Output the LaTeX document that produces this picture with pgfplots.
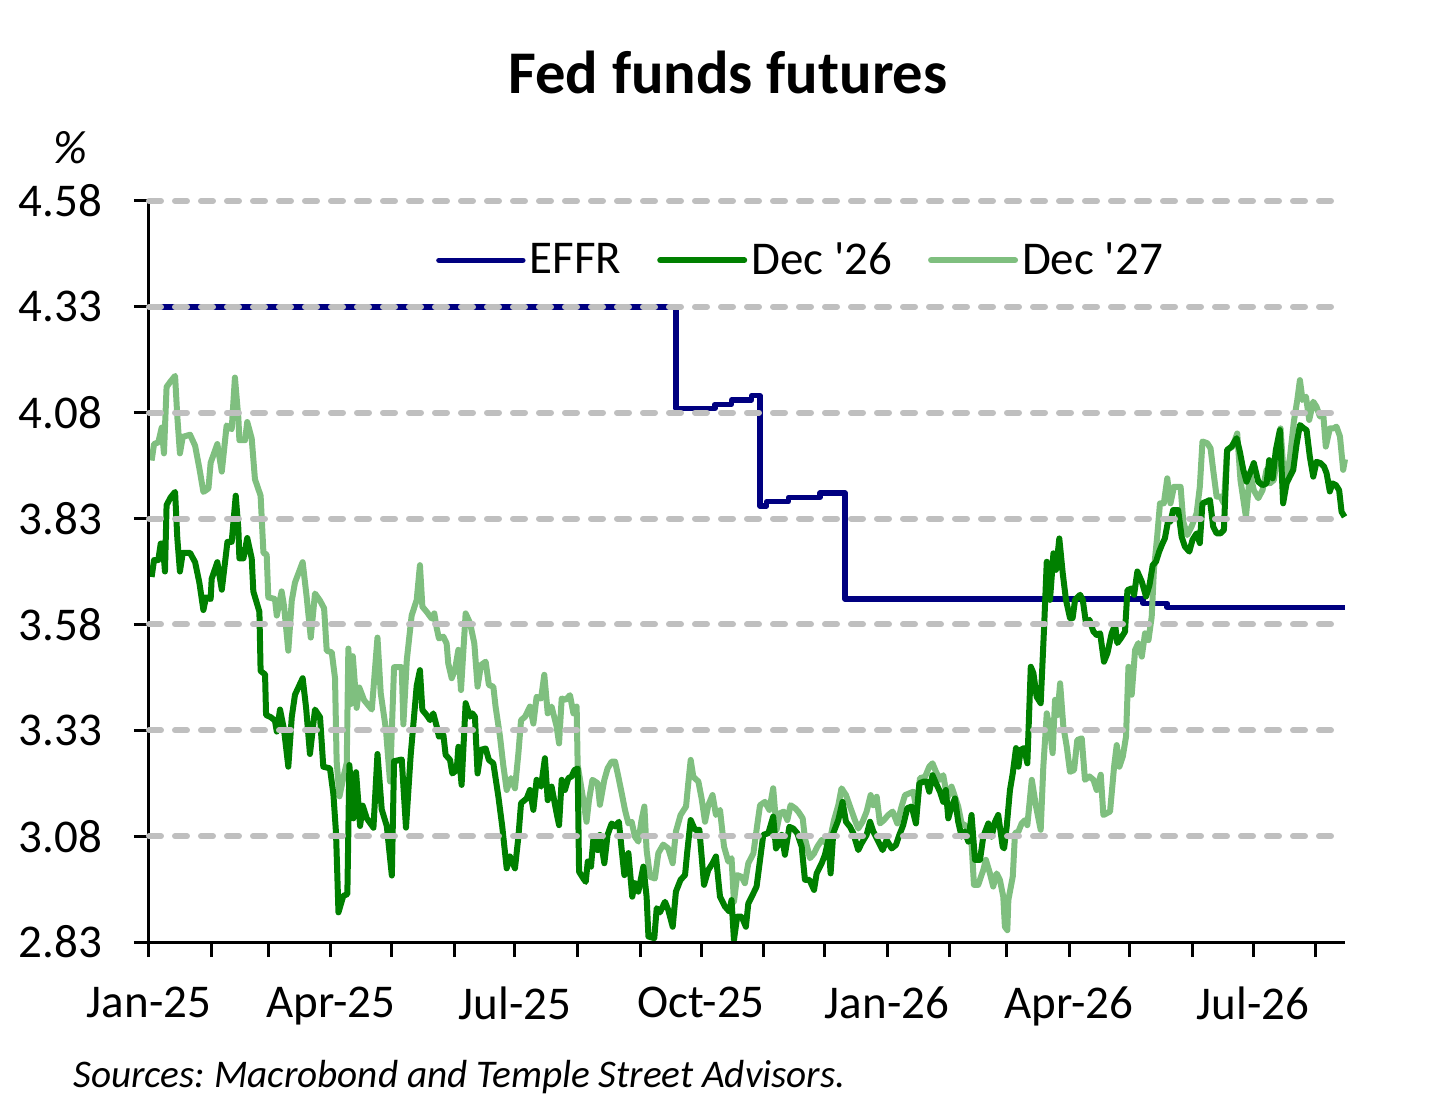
\documentclass[border=0pt]{standalone}
\usepackage{fontspec}
\setmainfont{Carlito}
\usepackage{pgfplots}
\pgfplotsset{compat=1.18}
\definecolor{effr}{RGB}{0,0,128}
\definecolor{dsix}{RGB}{0,128,0}
\definecolor{dseven}{RGB}{127,191,127}
\definecolor{gridc}{RGB}{191,191,191}
\begin{document}
\frenchspacing
\begin{tikzpicture}
\useasboundingbox (-74.5pt,-86.5pt) rectangle (653.5pt,471pt);
\begin{axis}[
  scale only axis, width=598pt, height=370.5pt,
  xmin=0, xmax=591.5, ymin=2.83, ymax=4.58,
  axis lines=left, axis line style={-, line width=1.5pt, black},
  axis on top, clip=false,
  ytick={2.83,3.08,3.33,3.58,3.83,4.08,4.33,4.58},
  yticklabels={2.83,3.08,3.33,3.58,3.83,4.08,4.33,4.58},
  xtick={0,31,59,90,120,151,181,212,243,273,304,334,365,396,424,455,485,516,546,577},
  xticklabels={Jan-25,,,Apr-25,,,Jul-25,,,Oct-25,,,Jan-26,,,Apr-26,,,Jul-26,},
  tick align=outside, major tick length=7.5pt,
  major tick style={line width=1.5pt, black},
  extra y ticks={3.08,3.33,3.58,3.83,4.08,4.33,4.58},
  extra y tick labels={},
  extra y tick style={ymajorgrids=true, major tick length=0pt},
  grid style={line width=3pt, gridc, dash pattern=on 6pt off 7pt, line cap=round},
  tick label style={font=\fontsize{23.5}{28}\selectfont},
  yticklabel style={xshift=-12.5pt},
  xticklabel style={yshift=-11.5pt},
  legend style={at={(0.5456,0.92)}, anchor=center, draw=none, fill=none,
    legend columns=3, font=\fontsize{23.5}{28}\selectfont,
    /tikz/every even column/.append style={column sep=16pt}},
  legend image code/.code={\draw[#1] (0pt,0pt) -- (42pt,0pt);},
]
\addlegendimage{effr, line width=2.7pt, line cap=round}
\addlegendentry{EFFR}
\addlegendimage{dsix, line width=3pt, line cap=round}
\addlegendentry{Dec \textquotesingle 26}
\addlegendimage{dseven, line width=3pt, line cap=round}
\addlegendentry{Dec \textquotesingle 27}

% EFFR
\addplot[forget plot, effr, line width=2.7pt, line join=round] coordinates {
(1,4.33) (260.6,4.33) (260.6,4.09) (279.9,4.09) (279.9,4.10) (288.1,4.10)
(288.1,4.11) (298.0,4.11) (298.0,4.12) (302.2,4.12) (302.2,3.86) (305.5,3.86)
(305.5,3.87) (316.2,3.87) (316.2,3.88) (331.8,3.88) (331.8,3.89) (344.2,3.89)
(344.2,3.64) (491.5,3.64) (491.5,3.63) (503.5,3.63) (503.5,3.62) (591.5,3.62)
};

% Dec '27
\addplot[forget plot, dseven, line width=3pt, line join=round] coordinates {
(1.3,3.967) (2.5,4.006) (4.6,4.010) (6.3,4.045) (7.4,3.984) (8.7,4.141)
(10.7,4.154) (12.9,4.167) (14.0,4.071) (15.3,3.984) (16.7,4.023) (20.3,4.028)
(22.8,4.002) (24.9,3.949) (26.9,3.893) (29.4,3.901) (30.5,3.962) (33.8,4.006)
(36.0,3.941) (38.4,4.050) (40.9,4.041) (42.5,4.163) (44.2,4.067) (44.7,4.015)
(47.5,4.015) (48.6,4.058) (50.8,4.019) (52.4,3.923) (55.2,3.884) (56.6,3.749)
(58.2,3.745) (59.0,3.644) (62.3,3.640) (63.2,3.601) (65.6,3.658) (66.8,3.623)
(68.9,3.518) (70.6,3.636) (72.2,3.679) (76.0,3.727) (78.0,3.644) (80.0,3.549)
(82.1,3.653) (84.6,3.636) (86.6,3.618) (87.9,3.518) (90.4,3.514) (92.0,3.453)
(92.8,3.257) (94.2,3.174) (96.1,3.218) (97.8,3.253) (98.6,3.523) (99.8,3.392)
(100.8,3.505) (102.7,3.383) (104.0,3.431) (106.4,3.401) (110.2,3.379) (113.0,3.549)
(114.6,3.418) (117.2,3.331) (119.2,3.209) (121.2,3.479) (125.0,3.479) (125.8,3.344)
(127.5,3.496) (129.9,3.601) (132.4,3.638) (134.0,3.720) (135.2,3.622) (137.3,3.610)
(139.8,3.594) (141.1,3.606) (142.3,3.571) (143.4,3.547) (145.6,3.551) (147.2,3.535)
(148.0,3.488) (149.7,3.453) (151.3,3.472) (153.0,3.520) (154.3,3.425) (156.6,3.606)
(158.8,3.583) (160.9,3.535) (162.5,3.433) (164.2,3.484) (166.5,3.492) (168.1,3.437)
(170.3,3.433) (171.4,3.386) (173.6,3.315) (175.2,3.248) (176.9,3.189) (179.0,3.217)
(181.0,3.193) (182.7,3.276) (184.0,3.354) (186.0,3.362) (188.4,3.386) (190.1,3.346)
(191.7,3.409) (193.9,3.405) (195.5,3.461) (197.2,3.370) (199.1,3.386) (201.6,3.339)
(202.8,3.299) (204.1,3.405) (206.1,3.402) (208.2,3.413) (209.9,3.370) (211.5,3.386)
(212.0,3.248) (214.8,3.165) (216.4,3.114) (217.6,3.165) (219.3,3.213) (221.9,3.205)
(223.0,3.154) (225.2,3.213) (226.8,3.240) (228.8,3.256) (230.5,3.256) (232.1,3.221)
(233.8,3.181) (235.4,3.142) (237.1,3.110) (238.7,3.114) (240.3,3.079) (242.0,3.067)
(243.6,3.118) (245.0,3.150) (246.1,3.047) (247.8,2.984) (250.2,2.980) (251.9,3.040)
(254.3,3.060) (256.8,3.051) (259.0,3.016) (260.6,3.091) (262.9,3.130) (265.6,3.150)
(266.7,3.205) (267.9,3.260) (269.2,3.220) (271.7,3.209) (273.3,3.169) (275.0,3.114)
(276.6,3.153) (278.7,3.177) (280.4,3.130) (282.4,3.142) (284.4,3.055) (286.5,3.020)
(288.1,3.028) (289.3,2.925) (290.9,2.988) (293.1,2.984) (294.7,2.969) (296.4,3.016)
(298.9,3.039) (300.8,3.106) (302.2,3.153) (304.6,3.161) (306.8,3.142) (308.7,3.193)
(310.4,3.095) (312.0,3.134) (314.0,3.138) (315.7,3.118) (317.3,3.153) (319.5,3.146)
(321.1,3.138) (323.3,3.122) (324.4,3.075) (326.9,3.028) (328.9,3.039) (330.5,3.055)
(332.7,3.071) (335.1,3.063) (337.1,3.079) (338.8,3.118) (340.9,3.153) (342.5,3.193)
(344.7,3.177) (346.7,3.150) (349.1,3.118) (350.8,3.098) (352.9,3.114) (354.9,3.138)
(356.9,3.177) (358.2,3.153) (359.9,3.173) (361.5,3.110) (363.5,3.118) (365.6,3.130)
(367.8,3.138) (370.1,3.110) (372.2,3.150) (373.9,3.177) (376.0,3.181) (378.0,3.185)
(379.6,3.142) (381.3,3.217) (383.8,3.220) (385.9,3.244) (387.5,3.252) (389.2,3.232)
(391.2,3.213) (392.8,3.224) (394.8,3.169) (396.9,3.197) (398.6,3.173) (400.2,3.150)
(401.9,3.110) (403.5,3.106) (405.2,3.095) (406.8,3.063) (408.0,2.965) (410.1,2.965)
(412.6,3.000) (413.9,3.024) (415.9,2.992) (417.5,2.961) (419.2,2.992) (420.8,2.977)
(422.5,2.937) (423.3,2.866) (424.5,2.858) (425.0,2.929) (427.2,2.985) (428.3,3.087)
(430.0,3.091) (431.6,3.110) (433.3,3.118) (434.4,3.106) (436.6,3.213) (438.7,3.150)
(441.0,3.095) (442.3,3.244) (444.0,3.370) (445.6,3.331) (446.9,3.276) (448.1,3.402)
(449.3,3.366) (450.6,3.441) (452.2,3.339) (453.9,3.291) (455.5,3.232) (457.5,3.236)
(459.1,3.307) (461.3,3.311) (462.9,3.213) (465.1,3.221) (467.1,3.213) (468.7,3.189)
(470.7,3.225) (472.0,3.130) (475.3,3.138) (477.3,3.244) (478.6,3.295) (479.9,3.244)
(481.6,3.268) (483.2,3.315) (484.4,3.480) (486.0,3.414) (487.7,3.520) (489.3,3.536)
(491.0,3.504) (492.6,3.559) (494.3,3.543) (495.9,3.598) (497.0,3.709) (498.6,3.787)
(500.0,3.866) (501.9,3.866) (503.6,3.925) (505.2,3.866) (506.9,3.905) (510.2,3.905)
(511.5,3.823) (513.5,3.791) (515.6,3.811) (518.1,3.842) (519.7,3.905) (521.0,4.012)
(523.4,4.008) (525.0,3.996) (526.3,3.945) (528.0,3.882) (529.9,3.882) (531.6,3.866)
(533.2,3.992) (535.9,4.000) (538.2,4.031) (539.8,3.921) (542.5,3.834) (544.5,3.937)
(546.4,3.897) (548.6,3.878) (550.7,3.897) (552.7,3.945) (554.3,3.913) (556.3,3.921)
(558.0,3.976) (559.6,4.043) (560.9,3.953) (562.6,3.929) (564.2,3.972) (566.2,4.059)
(567.9,4.110) (569.2,4.157) (570.5,4.110) (572.2,4.118) (573.8,4.063) (575.8,4.106)
(577.4,4.094) (579.1,4.071) (580.7,4.079) (582.0,4.000) (584.0,4.043) (585.7,4.043)
(587.3,4.047) (589.0,4.024) (590.6,3.945) (591.5,3.970)
};

% Dec '26
\addplot[forget plot, dsix, line width=3pt, line join=round] coordinates {
(1.3,3.692) (2.5,3.732) (4.6,3.732) (5.8,3.771) (6.8,3.771) (7.9,3.705)
(8.7,3.862) (10.7,3.880) (12.9,3.893) (14.0,3.784) (15.3,3.705) (16.7,3.749)
(20.3,3.749) (22.8,3.727) (24.9,3.679) (26.9,3.614) (28.2,3.644) (30.5,3.640)
(31.0,3.688) (33.8,3.727) (36.0,3.662) (38.8,3.775) (40.9,3.775) (42.9,3.884)
(44.2,3.806) (44.7,3.736) (46.7,3.736) (48.6,3.784) (50.8,3.736) (51.6,3.658)
(54.6,3.610) (55.2,3.470) (57.4,3.462) (57.9,3.366) (60.2,3.361) (62.3,3.353)
(63.2,3.327) (64.8,3.379) (66.8,3.331) (68.9,3.244) (70.6,3.361) (72.2,3.414)
(76.0,3.453) (77.7,3.383) (79.6,3.274) (82.1,3.379) (84.6,3.361) (86.2,3.244)
(89.5,3.240) (91.2,3.179) (92.5,3.087) (93.7,2.900) (96.1,2.939) (98.1,2.943)
(99.1,3.248) (101.1,3.122) (102.4,3.231) (104.4,3.104) (105.7,3.152) (107.7,3.122)
(111.0,3.100) (113.0,3.274) (115.1,3.143) (117.6,3.104) (120.1,2.987) (121.2,3.257)
(125.0,3.261) (127.1,3.100) (129.4,3.270) (132.4,3.435) (134.0,3.472) (135.2,3.378)
(137.3,3.366) (139.0,3.354) (140.6,3.370) (142.3,3.339) (143.4,3.315) (145.6,3.319)
(146.7,3.272) (148.9,3.260) (150.0,3.228) (152.2,3.236) (153.0,3.291) (154.6,3.201)
(156.6,3.394) (158.8,3.362) (159.9,3.370) (161.2,3.362) (162.5,3.228) (164.2,3.284)
(166.5,3.287) (168.1,3.260) (170.3,3.252) (172.8,3.173) (174.7,3.103) (176.9,3.004)
(178.5,3.032) (181.0,3.004) (182.7,3.079) (184.0,3.158) (186.8,3.169) (188.4,3.189)
(190.1,3.142) (191.7,3.213) (193.9,3.197) (195.8,3.264) (197.2,3.165) (199.1,3.197)
(201.6,3.134) (202.8,3.106) (204.1,3.213) (205.7,3.189) (207.4,3.217) (209.0,3.221)
(210.4,3.236) (212.0,3.240) (212.7,2.996) (214.8,2.980) (216.0,2.972) (217.0,3.020)
(218.6,3.008) (219.8,3.075) (221.9,3.047) (223.0,3.083) (225.2,3.016) (226.8,3.083)
(228.8,3.110) (230.5,3.103) (232.4,3.114) (233.8,3.047) (235.1,2.988) (237.1,3.040)
(239.0,2.937) (240.3,2.969) (242.0,2.949) (244.5,3.008) (246.1,2.937) (247.0,2.843)
(249.9,2.839) (251.1,2.910) (252.7,2.900) (255.2,2.925) (256.8,2.906) (259.0,2.866)
(260.6,2.949) (262.9,2.977) (265.1,2.988) (266.2,3.043) (267.9,3.118) (270.0,3.095)
(272.2,3.095) (274.5,2.965) (276.6,3.000) (278.7,3.016) (280.4,3.032) (282.4,2.937)
(284.8,2.914) (287.0,2.902) (288.1,2.929) (289.3,2.835) (290.9,2.890) (293.1,2.890)
(295.2,2.866) (296.4,2.921) (298.5,2.941) (300.5,2.961) (302.2,3.024) (303.8,3.083)
(306.3,3.087) (308.7,3.126) (310.1,3.051) (311.7,3.063) (312.9,3.083) (314.5,3.036)
(316.7,3.102) (318.6,3.098) (320.6,3.087) (322.8,3.055) (324.4,2.977) (326.6,2.977)
(328.9,2.953) (330.2,2.992) (332.7,3.016) (334.3,3.036) (336.0,3.071) (337.1,2.992)
(338.4,3.087) (340.9,3.118) (343.0,3.161) (344.7,3.114) (346.7,3.102) (348.3,3.087)
(350.8,3.047) (352.4,3.063) (354.9,3.083) (356.6,3.114) (358.2,3.091) (360.7,3.067)
(362.8,3.047) (364.8,3.071) (367.3,3.051) (369.4,3.059) (371.1,3.083) (373.0,3.106)
(375.0,3.146) (377.2,3.150) (379.3,3.110) (381.0,3.205) (383.3,3.209) (384.6,3.209)
(385.9,3.185) (387.5,3.224) (389.2,3.205) (391.2,3.185) (392.8,3.161) (394.1,3.189)
(395.3,3.122) (396.9,3.150) (398.6,3.169) (400.2,3.114) (401.9,3.079) (403.5,3.091)
(405.2,3.067) (406.8,3.130) (408.5,3.024) (411.0,3.024) (412.6,3.079) (415.1,3.110)
(416.7,3.079) (418.4,3.114) (420.0,3.130) (422.2,3.055) (422.9,3.051) (424.2,3.103)
(425.8,3.189) (427.2,3.229) (428.8,3.288) (430.0,3.244) (431.1,3.284) (432.8,3.288)
(434.4,3.252) (436.1,3.480) (437.4,3.465) (439.0,3.409) (441.0,3.394) (442.7,3.575)
(444.0,3.728) (445.6,3.638) (447.3,3.748) (448.6,3.709) (450.2,3.783) (451.9,3.701)
(453.5,3.638) (455.5,3.595) (456.8,3.595) (458.0,3.638) (460.5,3.650) (461.8,3.638)
(463.4,3.583) (465.1,3.591) (467.1,3.563) (468.7,3.555) (470.4,3.559) (472.3,3.492)
(474.0,3.512) (476.1,3.559) (477.8,3.579) (478.9,3.536) (480.6,3.547) (482.7,3.563)
(483.9,3.661) (486.0,3.665) (487.2,3.650) (488.8,3.705) (491.0,3.681) (493.1,3.646)
(494.8,3.673) (496.4,3.720) (498.0,3.728) (499.6,3.752) (501.3,3.772) (502.4,3.783)
(504.1,3.827) (505.2,3.823) (506.5,3.850) (509.0,3.850) (510.7,3.787) (512.3,3.764)
(514.5,3.752) (516.1,3.780) (518.1,3.795) (519.7,3.772) (521.0,3.866) (523.0,3.870)
(524.7,3.874) (526.3,3.811) (528.0,3.795) (529.9,3.795) (531.6,3.803) (533.2,3.992)
(535.4,4.000) (537.9,4.020) (539.5,3.988) (541.2,3.945) (542.8,3.917) (544.5,3.937)
(546.4,3.961) (548.6,3.917) (550.7,3.909) (552.7,3.913) (554.0,3.968) (555.7,3.925)
(557.3,3.992) (559.3,4.039) (560.9,3.866) (562.6,3.913) (564.2,3.929) (565.9,3.945)
(567.5,4.004) (569.2,4.051) (571.2,4.043) (572.5,4.039) (574.1,3.976) (575.8,3.929)
(577.4,3.964) (579.4,3.961) (581.1,3.953) (582.4,3.937) (584.0,3.894) (585.3,3.913)
(587.0,3.909) (588.6,3.897) (589.8,3.846) (591.3,3.834)
};
\end{axis}
\node[font=\bfseries\fontsize{30.3}{36}\selectfont] at (289.5pt,435pt) {Fed funds futures};
\node[font=\itshape\fontsize{23.5}{28}\selectfont] at (-39.5pt,397pt) {\%};
\node[anchor=west, inner sep=0pt, font=\itshape\fontsize{19.6}{24}\selectfont] at (-38pt,-67.5pt) {Sources: Macrobond and Temple Street Advisors.};
\end{tikzpicture}
\end{document}
